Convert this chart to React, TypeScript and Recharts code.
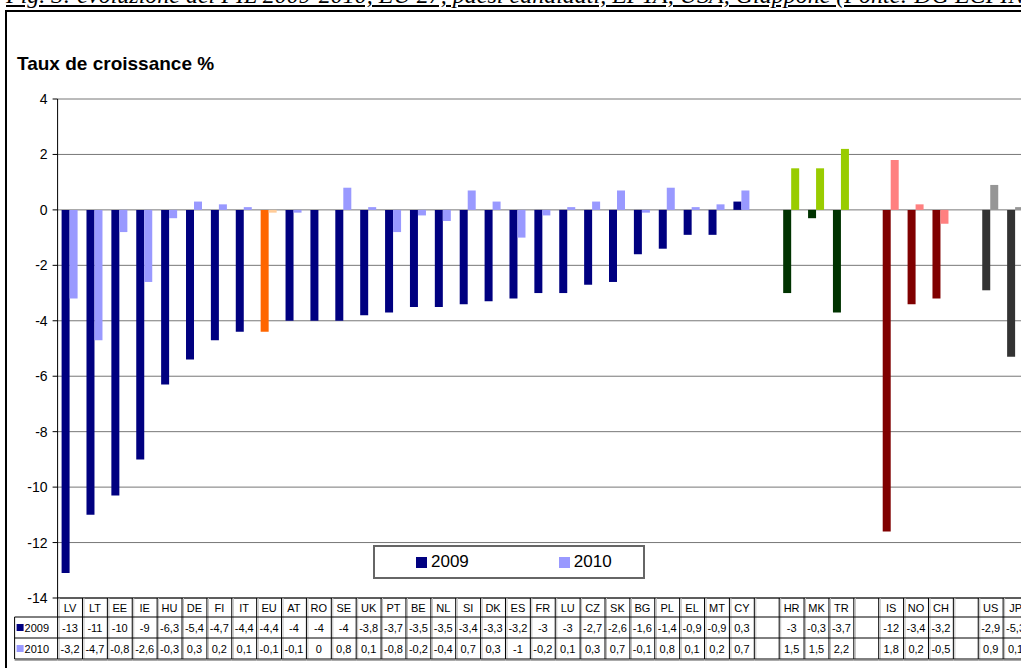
import React from 'react'
import { Bar, BarChart, CartesianGrid, Cell, Legend, XAxis, YAxis } from 'recharts'

// categories as they appear on the axis ('' = empty spacer column)
const countries = [
  'LV', 'LT', 'EE', 'IE', 'HU', 'DE', 'FI', 'IT', 'EU', 'AT', 'RO', 'SE', 'UK', 'PT',
  'BE', 'NL', 'SI', 'DK', 'ES', 'FR', 'LU', 'CZ', 'SK', 'BG', 'PL', 'EL', 'MT', 'CY',
  '', 'HR', 'MK', 'TR', '', 'IS', 'NO', 'CH', '', 'US', 'JP',
]

const groups = [
  'eu', 'eu', 'eu', 'eu', 'eu', 'eu', 'eu', 'eu', 'avg', 'eu', 'eu', 'eu', 'eu', 'eu',
  'eu', 'eu', 'eu', 'eu', 'eu', 'eu', 'eu', 'eu', 'eu', 'eu', 'eu', 'eu', 'eu', 'eu',
  'gap', 'cand', 'cand', 'cand', 'gap', 'efta', 'efta', 'efta', 'gap', 'other', 'other',
]

const growth2009 = [
  -13.1, -11, -10.3, -9, -6.3, -5.4, -4.7, -4.4, -4.4, -4, -4, -4, -3.8, -3.7,
  -3.5, -3.5, -3.4, -3.3, -3.2, -3, -3, -2.7, -2.6, -1.6, -1.4, -0.9, -0.9, 0.3,
  null, -3, -0.3, -3.7, null, -11.6, -3.4, -3.2, null, -2.9, -5.3,
]

const growth2010 = [
  -3.2, -4.7, -0.8, -2.6, -0.3, 0.3, 0.2, 0.1, -0.1, -0.1, 0, 0.8, 0.1, -0.8,
  -0.2, -0.4, 0.7, 0.3, -1, -0.2, 0.1, 0.3, 0.7, -0.1, 0.8, 0.1, 0.2, 0.7,
  null, 1.5, 1.5, 2.2, null, 1.8, 0.2, -0.5, null, 0.9, 0.1,
]

const yTicks = [4, 2, 0, -2, -4, -6, -8, -10, -12, -14]

const palette: Record<string, [string, string]> = {
  eu: ['#000080', '#9999FF'],
  avg: ['#FF6600', '#FFCC99'],
  cand: ['#003300', '#99CC00'],
  efta: ['#800000', '#FF8080'],
  other: ['#333333', '#969696'],
  gap: ['#ffffff', '#ffffff'],
}

const data = countries.map((c, i) => ({
  id: String(i),
  name: c,
  v2009: growth2009[i],
  v2010: growth2010[i],
}))

const FONT = '"Liberation Sans", Arial, sans-serif'
const W = 1045
const H = 668
const TOP = 99
const AXIS_H = 70
const Y_W = 57.6
const RIGHT = 17
const BAND = (W - Y_W - RIGHT) / countries.length
const TABLE_TOP = H - AXIS_H
const ROW = [19, 21, 21]

// excel-like number formatting for the data table
function fmt(v: number | null) {
  if (v === null) return ''
  const r = Math.abs(v) >= 10 ? Math.round(v) : Math.round(v * 10) / 10
  return String(r).replace('.', ',')
}

function TableTick(props: any) {
  const { x, payload } = props
  const i = payload.index
  const x0 = x - BAND / 2
  const y0 = TABLE_TOP
  const y1 = y0 + ROW[0]
  const y2 = y1 + ROW[1]
  const y3 = y2 + ROW[2]
  const txt = { fontFamily: FONT, fontSize: 11, fill: '#000', textAnchor: 'middle' as const }
  return (
    <g>
      {i === 0 && (
        <g>
          <line x1={x0 - 43} x2={x0} y1={y1} y2={y1} stroke="#000" />
          <line x1={x0 - 43} x2={x0 - 43} y1={y1} y2={y3} stroke="#000" />
          <rect x={x0 - 41} y={y1 + 7} width={7} height={7} fill={palette.eu[0]} />
          <text x={x0 - 33} y={y1 + 15} fontFamily={FONT} fontSize={11}>2009</text>
          <rect x={x0 - 41} y={y2 + 7} width={7} height={7} fill={palette.eu[1]} />
          <text x={x0 - 33} y={y2 + 15} fontFamily={FONT} fontSize={11}>2010</text>
          <line x1={x0 - 43} x2={x0} y1={y2} y2={y2} stroke="#000" />
          <line x1={x0 - 43} x2={x0} y1={y3} y2={y3} stroke="#000" />
          <line x1={x0 - 43} x2={x0} y1={y3 + 1.5} y2={y3 + 1.5} stroke="#aaa" />
        </g>
      )}
      <line x1={x0} x2={x0} y1={y0} y2={y3} stroke="#000" />
      <line x1={x0 + 1.5} x2={x0 + 1.5} y1={y0} y2={y3} stroke="#bbb" />
      <line x1={x0} x2={x0 + BAND} y1={y1} y2={y1} stroke="#000" />
      <line x1={x0} x2={x0 + BAND} y1={y2} y2={y2} stroke="#000" />
      <line x1={x0} x2={x0 + BAND} y1={y3} y2={y3} stroke="#000" />
      <line x1={x0} x2={x0 + BAND} y1={y3 + 1.5} y2={y3 + 1.5} stroke="#aaa" />
      <text x={x} y={y0 + 14} {...txt}>{countries[i]}</text>
      <text x={x} y={y1 + 15} {...txt}>{fmt(growth2009[i])}</text>
      <text x={x} y={y2 + 15} {...txt}>{fmt(growth2010[i])}</text>
    </g>
  )
}

function LegendBox() {
  const item = (color: string, label: string) => (
    <span style={{ display: 'inline-flex', alignItems: 'center' }}>
      <span style={{ width: 11, height: 11, background: color, marginRight: 4 }} />
      <span>{label}</span>
    </span>
  )
  return (
    <div
      style={{
        boxSizing: 'border-box',
        width: 272,
        height: 34,
        border: '2px solid #666',
        background: '#fff',
        display: 'flex',
        alignItems: 'center',
        paddingLeft: 41,
        gap: 90,
        fontFamily: FONT,
        fontSize: 17,
        color: '#000',
      }}
    >
      {item(palette.eu[0], '2009')}
      {item(palette.eu[1], '2010')}
    </div>
  )
}

export default function App() {
  return (
    <div style={{ position: 'absolute', left: 0, top: 0, width: 1021, height: 668, overflow: 'hidden', background: '#fff' }}>
      <div
        style={{
          position: 'absolute',
          left: 6,
          top: -18,
          whiteSpace: 'nowrap',
          fontFamily: '"Liberation Serif", "Times New Roman", serif',
          fontStyle: 'italic',
          fontSize: 24,
          textDecoration: 'underline',
        }}
      >
        Fig. 3: evoluzione del PIL 2009-2010, EU 27, paesi candidati, EFTA, USA, Giappone (Fonte: DG ECFIN)
      </div>
      <div style={{ position: 'absolute', left: 5, top: 10, width: 1100, height: 700, border: '2px solid #000' }} />
      <div style={{ position: 'absolute', left: 17, top: 53, fontFamily: FONT, fontWeight: 'bold', fontSize: 19 }}>
        Taux de croissance %
      </div>
      <div style={{ position: 'absolute', left: 0, top: 0 }}>
        <BarChart
          width={W}
          height={H}
          data={data}
          margin={{ top: TOP, right: RIGHT, left: 0, bottom: 0 }}
          barGap={0}
        >
          <CartesianGrid vertical={false} stroke="#777" />
          <XAxis
            dataKey="id"
            height={AXIS_H}
            tick={<TableTick />}
            tickLine={false}
            tickSize={0}
            tickMargin={0}
            axisLine={{ stroke: '#000' }}
            interval={0}
          />
          <YAxis
            width={Y_W}
            domain={[-14, 4]}
            ticks={yTicks}
            interval={0}
            tickSize={5}
            tickMargin={5}
            axisLine={{ stroke: '#000' }}
            tickLine={{ stroke: '#000' }}
            tick={{ fontFamily: FONT, fontSize: 14, fill: '#000' }}
          />
          <Legend
            content={<LegendBox />}
            layout="horizontal"
            verticalAlign="middle"
            align="center"
            wrapperStyle={{ position: 'absolute', left: 373, top: 545, width: 272, height: 34 }}
          />
          <Bar dataKey="v2009" name="2009" barSize={8} isAnimationActive={false}>
            {data.map((d, i) => (
              <Cell key={d.id} fill={palette[groups[i]][0]} />
            ))}
          </Bar>
          <Bar dataKey="v2010" name="2010" barSize={8} isAnimationActive={false}>
            {data.map((d, i) => (
              <Cell key={d.id} fill={palette[groups[i]][1]} />
            ))}
          </Bar>
        </BarChart>
      </div>
    </div>
  )
}
